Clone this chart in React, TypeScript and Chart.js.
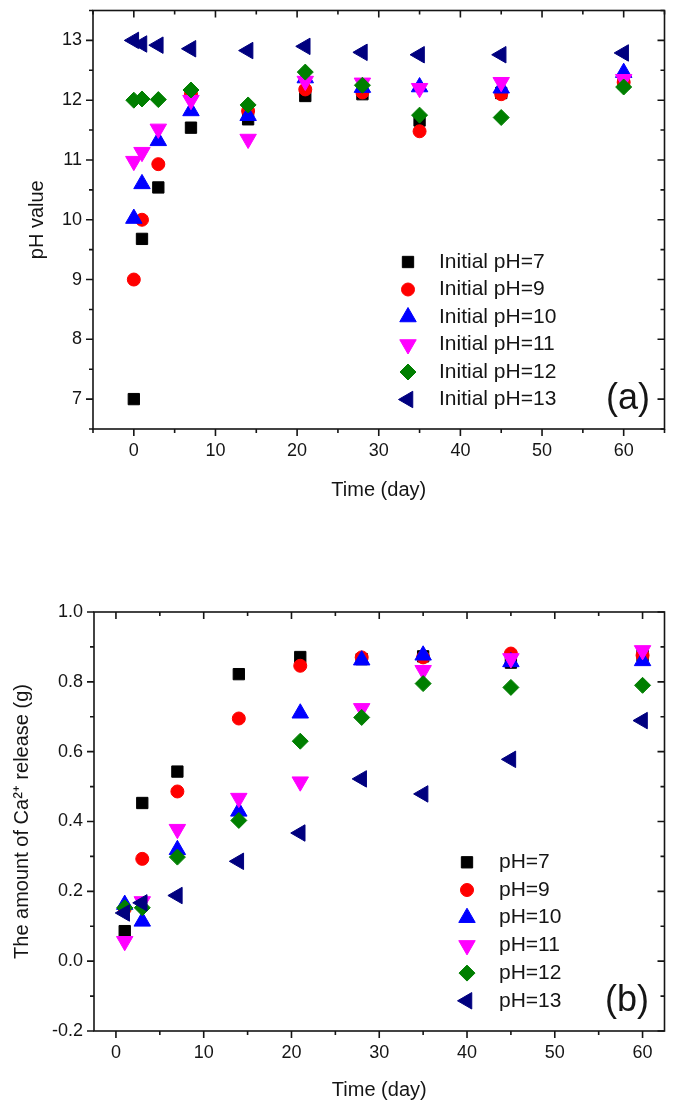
import React, { useEffect, useRef } from 'react';
import { Chart, registerables } from 'chart.js';
import { drawPoint } from 'chart.js/helpers';

Chart.register(...registerables);

// ---------- data: panel (a) ----------
const DAYS_A = [0, 1, 3, 7, 14, 21, 28, 35, 45, 60];
const PH7_A = [7.0, 9.68, 10.54, 11.54, 11.68, 12.07, 12.1, 11.66, 12.12, 12.28];
const PH9_A = [9.0, 10.0, 10.93, 12.1, 11.82, 12.18, 12.13, 11.48, 12.1, 12.3];
const PH10_A = [10.02, 10.6, 11.32, 11.82, 11.74, 12.37, 12.21, 12.22, 12.2, 12.46];
const PH11_A = [10.98, 11.13, 11.52, 12.0, 11.35, 12.32, 12.29, 12.2, 12.3, 12.35];
const PH12_A = [12.0, 12.02, 12.01, 12.17, 11.92, 12.47, 12.25, 11.75, 11.71, 12.22];
const PH13_A = [13.0, 12.94, 12.92, 12.86, 12.83, 12.9, 12.8, 12.76, 12.76, 12.79];
const LABELS_A = ['Initial pH=7', 'Initial pH=9', 'Initial pH=10', 'Initial pH=11', 'Initial pH=12', 'Initial pH=13'];
const X_MAJOR_A = [0, 10, 20, 30, 40, 50, 60];
const X_MINOR_A = [-5, 5, 15, 25, 35, 45, 55, 65];
const Y_MAJOR_A = [7, 8, 9, 10, 11, 12, 13];
const Y_MINOR_A = [6.5, 7.5, 8.5, 9.5, 10.5, 11.5, 12.5, 13.5];

// ---------- data: panel (b) ----------
const DAYS_B = [1, 3, 7, 14, 21, 28, 35, 45, 60];
const PH7_B = [0.086, 0.453, 0.543, 0.822, 0.871, 0.865, 0.873, 0.855, 0.875];
const PH9_B = [0.15, 0.293, 0.486, 0.695, 0.846, 0.87, 0.87, 0.881, 0.876];
const PH10_B = [0.162, 0.114, 0.319, 0.429, 0.71, 0.862, 0.876, 0.857, 0.86];
const PH11_B = [0.057, 0.171, 0.378, 0.467, 0.514, 0.724, 0.833, 0.867, 0.89];
const PH12_B = [0.153, 0.153, 0.298, 0.403, 0.63, 0.698, 0.795, 0.784, 0.79];
const PH13_B = [0.138, 0.167, 0.188, 0.286, 0.367, 0.522, 0.479, 0.578, 0.689];
const LABELS_B = ['pH=7', 'pH=9', 'pH=10', 'pH=11', 'pH=12', 'pH=13'];
const X_MAJOR_B = [0, 10, 20, 30, 40, 50, 60];
const X_MINOR_B = [5, 15, 25, 35, 45, 55];
const Y_MAJOR_B = [-0.2, 0, 0.2, 0.4, 0.6, 0.8, 1.0];
const Y_MINOR_B = [-0.1, 0.1, 0.3, 0.5, 0.7, 0.9];

// ---------- styles ----------
const COLORS = ['#000000', '#FF0000', '#0000FF', '#FF00FF', '#007F00', '#00007F'];
const POINT_STYLES = ['rect', 'circle', 'triangle', 'triangle', 'rectRot', 'triangle'];
const POINT_RADII = [8, 6.5, 9.5, 9.5, 8, 9.5];
const POINT_ROTATIONS = [0, 0, 0, 180, 0, 270];
const FONT = '"Liberation Sans", Arial, Helvetica, sans-serif';
const INK = '#151515';

const framePlugin = {
  id: 'frame',
  afterDraw(chart: any, _args: any, opts: any) {
    const { ctx, chartArea } = chart;
    const { left, right, top, bottom } = chartArea;
    const xs = chart.scales.x;
    const ys = chart.scales.y;
    ctx.save();
    ctx.strokeStyle = INK;
    ctx.lineWidth = 1.6;
    ctx.beginPath();
    const seg = (x1: number, y1: number, x2: number, y2: number) => {
      ctx.moveTo(x1, y1);
      ctx.lineTo(x2, y2);
    };
    const MAJ = 7;
    const MIN = 4;
    opts.xMajor.forEach((v: number) => {
      const p = xs.getPixelForValue(v);
      seg(p, bottom, p, bottom + MAJ);
      seg(p, top, p, top + MAJ);
    });
    opts.xMinor.forEach((v: number) => {
      const p = xs.getPixelForValue(v);
      seg(p, bottom, p, bottom + MIN);
      seg(p, top, p, top + MIN);
    });
    opts.yMajor.forEach((v: number) => {
      const p = ys.getPixelForValue(v);
      seg(left, p, left - MAJ, p);
      seg(right, p, right - MAJ, p);
    });
    opts.yMinor.forEach((v: number) => {
      const p = ys.getPixelForValue(v);
      seg(left, p, left - MIN, p);
      seg(right, p, right - MIN, p);
    });
    ctx.stroke();
    ctx.strokeRect(left, top, right - left, bottom - top);
    ctx.restore();
  },
};

const legendPlugin = {
  id: 'innerLegend',
  afterDraw(chart: any, _args: any, opts: any) {
    const { ctx } = chart;
    ctx.save();
    chart.data.datasets.forEach((ds: any, i: number) => {
      const y = opts.y0 + i * opts.dy;
      ctx.fillStyle = ds.pointBackgroundColor;
      ctx.strokeStyle = ds.pointBorderColor;
      ctx.lineWidth = 1;
      drawPoint(
        ctx,
        { pointStyle: ds.pointStyle, radius: ds.pointRadius, rotation: ds.pointRotation, borderWidth: 1 } as any,
        opts.symbolX,
        y
      );
      ctx.fillStyle = INK;
      ctx.font = `${opts.fontSize}px ${FONT}`;
      ctx.textAlign = 'left';
      ctx.textBaseline = 'middle';
      ctx.fillText(ds.label, opts.textX, y);
    });
    ctx.font = `${opts.tagSize}px ${FONT}`;
    ctx.textAlign = 'left';
    ctx.textBaseline = 'middle';
    ctx.fillStyle = INK;
    ctx.fillText(opts.tag, opts.tagX, opts.tagY);
    ctx.restore();
  },
};

function makeDatasets(days: number[], series: number[][], labels: string[]) {
  return series.map((vals, i) => ({
    label: labels[i],
    data: days.map((d, j) => ({ x: d, y: vals[j] })),
    pointStyle: POINT_STYLES[i],
    pointRadius: POINT_RADII[i],
    pointRotation: POINT_ROTATIONS[i],
    pointBackgroundColor: COLORS[i],
    pointBorderColor: COLORS[i],
    pointBorderWidth: 1,
    showLine: false,
    order: series.length - 1 - i,
  }));
}

const zeroPad = (s: any) => {
  s.paddingTop = 0;
  s.paddingBottom = 0;
  s.paddingLeft = 0;
  s.paddingRight = 0;
};

function buildConfig(p: any) {
  return {
    type: 'scatter',
    data: { datasets: makeDatasets(p.days, p.series, p.labels) },
    plugins: [framePlugin, legendPlugin],
    options: {
      responsive: false,
      animation: false,
      events: [],
      layout: { padding: { top: p.padTop, right: 6, left: 0, bottom: 0 } },
      plugins: {
        legend: { display: false },
        tooltip: { enabled: false },
        frame: { xMajor: p.xMajor, xMinor: p.xMinor, yMajor: p.yMajor, yMinor: p.yMinor },
        innerLegend: p.legend,
      },
      scales: {
        x: {
          type: 'linear',
          min: p.xMin,
          max: p.xMax,
          afterBuildTicks: (s: any) => {
            s.ticks = p.xMajor.map((v: number) => ({ value: v }));
          },
          afterFit: (s: any) => {
            s.height = p.xAxisHeight;
            zeroPad(s);
          },
          ticks: {
            font: { size: 18, family: FONT },
            color: INK,
            padding: 11,
            maxRotation: 0,
            callback: (v: any) => String(v),
          },
          grid: { display: false, drawTicks: false },
          border: { display: false },
          title: {
            display: true,
            text: 'Time (day)',
            color: INK,
            font: { size: 20, family: FONT },
            padding: { top: 0, bottom: p.xTitlePad },
          },
        },
        y: {
          type: 'linear',
          min: p.yMin,
          max: p.yMax,
          afterBuildTicks: (s: any) => {
            s.ticks = p.yMajor.map((v: number) => ({ value: v }));
          },
          afterFit: (s: any) => {
            s.width = p.yAxisWidth;
            zeroPad(s);
          },
          ticks: {
            font: { size: 18, family: FONT },
            color: INK,
            padding: 11,
            callback: p.yFmt,
          },
          grid: { display: false, drawTicks: false },
          border: { display: false },
          title: {
            display: true,
            text: p.yTitle,
            color: INK,
            font: { size: 20, family: FONT },
            padding: { top: p.yTitlePad, bottom: 0 },
          },
        },
      },
    },
  };
}

const PANEL_A = {
  days: DAYS_A,
  series: [PH7_A, PH9_A, PH10_A, PH11_A, PH12_A, PH13_A],
  labels: LABELS_A,
  xMin: -5,
  xMax: 65,
  yMin: 6.5,
  yMax: 13.5,
  xMajor: X_MAJOR_A,
  xMinor: X_MINOR_A,
  yMajor: Y_MAJOR_A,
  yMinor: Y_MINOR_A,
  padTop: 9,
  xAxisHeight: 86,
  yAxisWidth: 93,
  xTitlePad: 13,
  yTitlePad: 25,
  yTitle: 'pH value',
  yFmt: (v: any) => String(v),
  legend: { symbolX: 408, textX: 439, y0: 262, dy: 27.5, fontSize: 21, tag: '(a)', tagSize: 36, tagX: 606, tagY: 399 },
};

const PANEL_B = {
  days: DAYS_B,
  series: [PH7_B, PH9_B, PH10_B, PH11_B, PH12_B, PH13_B],
  labels: LABELS_B,
  xMin: -2.5,
  xMax: 62.5,
  yMin: -0.2,
  yMax: 1.0,
  xMajor: X_MAJOR_B,
  xMinor: X_MINOR_B,
  yMajor: Y_MAJOR_B,
  yMinor: Y_MINOR_B,
  padTop: 82,
  xAxisHeight: 82,
  yAxisWidth: 94,
  xTitlePad: 11,
  yTitlePad: 10,
  yTitle: 'The amount of Ca\u00B2\u207A release (g)',
  yFmt: (v: any) => Number(v).toFixed(1),
  legend: { symbolX: 467, textX: 499, y0: 332.3, dy: 27.7, fontSize: 21, tag: '(b)', tagSize: 36, tagX: 605, tagY: 471 },
};

function Panel({ cfg, width, height, top }: { cfg: any; width: number; height: number; top: number }) {
  const ref = useRef<HTMLCanvasElement | null>(null);
  useEffect(() => {
    if (!ref.current) return;
    const chart = new Chart(ref.current, buildConfig(cfg) as any);
    return () => chart.destroy();
  }, [cfg]);
  return (
    <canvas
      ref={ref}
      width={width}
      height={height}
      style={{ position: 'absolute', left: 0, top, width, height, display: 'block' }}
    />
  );
}

export default function App() {
  return (
    <div style={{ position: 'absolute', left: 0, top: 0, width: 675, height: 1113, background: '#ffffff' }}>
      <Panel cfg={PANEL_A} width={675} height={515} top={0} />
      <Panel cfg={PANEL_B} width={675} height={583} top={530} />
    </div>
  );
}
